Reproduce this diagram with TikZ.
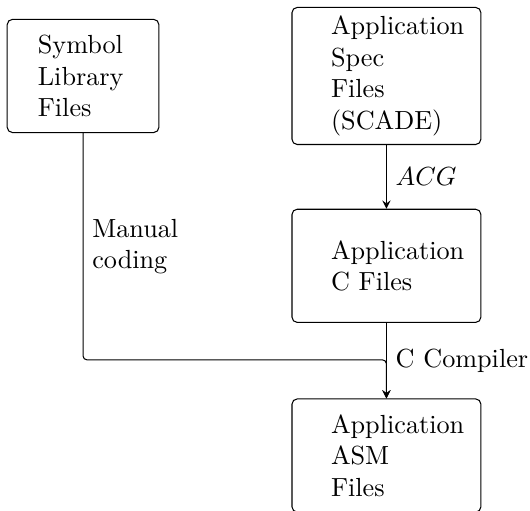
\documentclass[tikz,border=0pt]{standalone}
\usetikzlibrary{positioning}
\hyphenpenalty=10000

\begin{document}
\begin{tikzpicture}[>=stealth,
  filebox/.style={draw,rounded corners=2pt,align=left,minimum height=43.2pt,
    text width=42.3pt,inner xsep=14.9pt}]

\useasboundingbox (0,0) rectangle (202.3pt,195pt);

\node [filebox,text width=34.5pt,inner xsep=11.7pt] (sym) at (31.7pt,166pt) {Symbol\\Library\\Files};
\node [filebox,right=50.4pt of sym] (spec) {Application\\Spec\\Files\\(SCADE)};
\node [filebox,below=24.3pt of spec] (cfile) {Application\\C Files};
\node [filebox,below=28.8pt of cfile] (asm) {Application\\ASM\\Files};

\coordinate [above=14.7pt of asm] (merge);

\draw [->] (spec) -- node [right] {$ACG$} (cfile);
\draw [->] (cfile) -- node [right] {C Compiler} (asm);
\draw [->,rounded corners=1.5pt] (sym) |- node [pos=0.25,right,align=left] {Manual\\coding} (merge) -- (asm);

\end{tikzpicture}
\end{document}
